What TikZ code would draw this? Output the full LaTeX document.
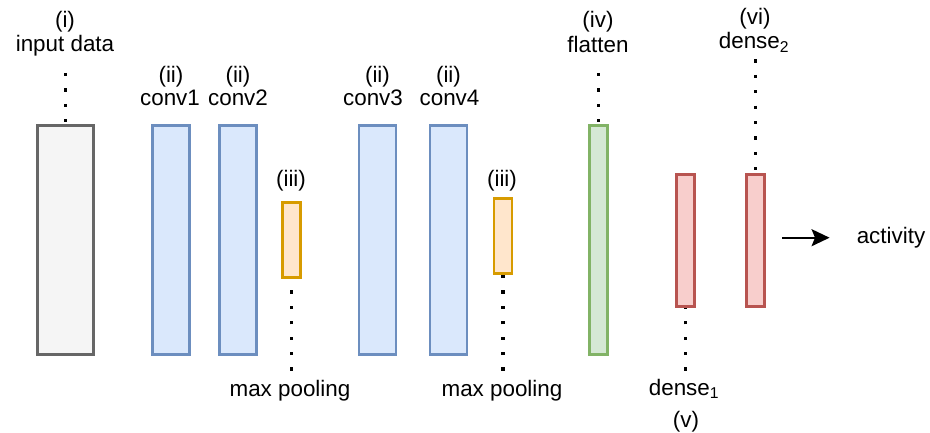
\documentclass[tikz,border=0pt]{standalone}
\usepackage{fontspec}
\setmainfont{Liberation Sans}
\usetikzlibrary{arrows.meta}

\definecolor{grayfill}{HTML}{F5F5F5}
\definecolor{grayline}{HTML}{666666}
\definecolor{bluefill}{HTML}{DAE8FC}
\definecolor{blueline}{HTML}{6C8EBF}
\definecolor{orangefill}{HTML}{FFE6CC}
\definecolor{orangeline}{HTML}{D79B00}
\definecolor{greenfill}{HTML}{D5E8D4}
\definecolor{greenline}{HTML}{82B366}
\definecolor{redfill}{HTML}{F8CECC}
\definecolor{redline}{HTML}{B85450}

\begin{document}
\begin{tikzpicture}[x=1pt,y=-1pt,
  layerbox/.style={rectangle, line width=2.6pt, inner sep=0pt},
  inputlayer/.style={layerbox, draw=grayline, fill=grayfill, minimum width=56.4pt, minimum height=229.4pt},
  convlayer/.style={layerbox, draw=blueline, fill=bluefill, minimum width=37.1pt, minimum height=229.4pt},
  poollayer/.style={layerbox, draw=orangeline, fill=orangefill, minimum width=18.1pt, minimum height=75.4pt},
  flatlayer/.style={layerbox, draw=greenline, fill=greenfill, minimum width=18.4pt, minimum height=229.4pt},
  denselayer/.style={layerbox, draw=redline, fill=redfill, minimum width=18.4pt, minimum height=132.4pt},
  lbl/.style={anchor=base, inner sep=0pt, text=black, font=\fontsize{22.4}{26}\selectfont},
  dotline/.style={black, line width=3.2pt, dash pattern=on 3.2pt off 12.2pt},
  flowarrow/.style={black, line width=2.3pt, -{Stealth[length=18pt 0 0, width=17pt 0 0, inset=3.5pt 0 0]}}
]
\useasboundingbox (0,0) rectangle (930,433);

% layers
\node[inputlayer] (input) at (65.5,240) {};
\node[convlayer]  (conv1) at (171,240) {};
\node[convlayer]  (conv2) at (238.2,240) {};
\node[poollayer]  (pool1) at (291.3,240) {};
\node[convlayer]  (conv3) at (377.5,240) {};
\node[convlayer]  (conv4) at (448.5,240) {};
\node[poollayer]  (pool2) at (503,236) {};
\node[flatlayer]  (flat)  at (598.5,240) {};
\node[denselayer] (dense1) at (685.5,240.5) {};
\node[denselayer] (dense2) at (755.5,240.5) {};

% labels
\node[lbl] (inputnum)  at (65,28)    {(i)};
\node[lbl] (inputname) at (65,51.5)  {input data};
\node[lbl] (conv1num)  at (171,82.5) {(ii)};
\node[lbl] (conv1name) at (170,106)  {conv1};
\node[lbl] (conv2num)  at (238,82.5) {(ii)};
\node[lbl] (conv2name) at (238,106)  {conv2};
\node[lbl] (pool1num)  at (291,187)  {(iii)};
\node[lbl] (pool1name) at (290,396.5) {max pooling};
\node[lbl] (conv3num)  at (377.5,82.5) {(ii)};
\node[lbl] (conv3name) at (373,106)  {conv3};
\node[lbl] (conv4num)  at (448.5,82.5) {(ii)};
\node[lbl] (conv4name) at (449.5,106) {conv4};
\node[lbl] (pool2num)  at (502,187)  {(iii)};
\node[lbl] (pool2name) at (502,396.5) {max pooling};
\node[lbl] (flatnum)   at (598,28)   {(iv)};
\node[lbl] (flatname)  at (598,52.5) {flatten};
\node[lbl] (dense2num) at (755,25)   {(vi)};
\node[lbl] (dense2name) at (754,49)  {dense\textsubscript{2}};
\node[lbl] (dense1name) at (684,395) {dense\textsubscript{1}};
\node[lbl] (dense1num) at (686,427)  {(v)};
\node[lbl] (act) at (891,243.5) {activity};

% dotted leaders between labels and layers
\path (input.north)  ++(0,-51)    coordinate (inputtip);
\path (flat.north)   ++(0,-51)    coordinate (flattip);
\path (dense2.north) ++(0,-113.5) coordinate (dense2tip);
\path (pool1.south)  ++(0,91.5)   coordinate (pool1tip);
\path (pool2.south)  ++(0,95.5)   coordinate (pool2tip);
\path (dense1.south) ++(0,62.5)   coordinate (dense1tip);

\draw[dotline] (inputtip)  -- (input.north);
\draw[dotline] (flattip)   -- (flat.north);
\draw[dotline] (dense2tip) -- (dense2.north);
\draw[dotline] (pool1tip)  -- (pool1.south);
\draw[dotline] (pool2tip)  -- (pool2.south);
\draw[dotline] (dense1tip) -- (dense1.south);

% output arrow
\coordinate (actin) at ([xshift=-27pt]act.west);
\coordinate (actout) at ([xshift=16pt]dense2.east |- actin);
\draw[flowarrow] (actout) -- (actin);
\end{tikzpicture}
\end{document}
